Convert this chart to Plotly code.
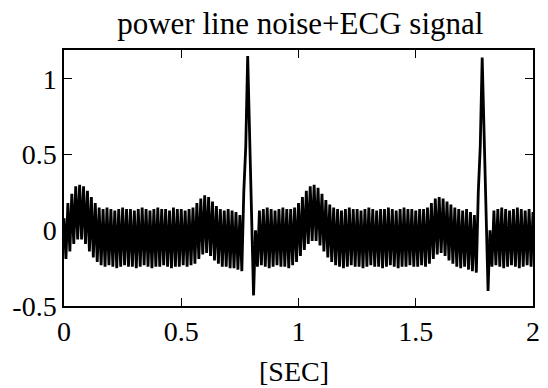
import numpy as np
import plotly.graph_objects as go

# Sampling: one vertex every half cycle of the 60 Hz power-line noise
SAMPLE_RATE = 120  # vertices per second

# Upper (crest) values, one per cycle (t = k/60)
crests = [
    0.08, 0.18, 0.24, 0.29, 0.30, 0.29, 0.26, 0.22, 0.18, 0.15,
    0.14, 0.15, 0.14, 0.13, 0.14, 0.15, 0.14, 0.14, 0.13, 0.14,
    0.15, 0.14, 0.13, 0.14, 0.15, 0.14, 0.14, 0.13, 0.15, 0.14,
    0.14, 0.13, 0.14, 0.15, 0.18, 0.21, 0.23, 0.22, 0.19, 0.16,
    0.14, 0.13, 0.14, 0.13, 0.12, 0.10, 0.25, 1.15, 0.15, 0.00,
    0.13, 0.14, 0.15, 0.14, 0.13, 0.14, 0.15, 0.14, 0.14, 0.15,
    0.18, 0.22, 0.26, 0.29, 0.30, 0.28, 0.24, 0.20, 0.17, 0.15,
    0.14, 0.13, 0.14, 0.15, 0.14, 0.14, 0.13, 0.14, 0.15, 0.14,
    0.13, 0.14, 0.14, 0.15, 0.14, 0.13, 0.14, 0.15, 0.14, 0.14,
    0.13, 0.14, 0.14, 0.15, 0.18, 0.21, 0.22, 0.21, 0.19, 0.17,
    0.15, 0.14, 0.13, 0.14, 0.12, 0.10, 0.25, 1.14, 0.15, 0.00,
    0.13, 0.14, 0.15, 0.14, 0.13, 0.14, 0.15, 0.14, 0.13, 0.14,
    0.12,
]

# Lower (trough) values, one per cycle (t = (2k+1)/120)
troughs = [
    -0.19, -0.14, -0.09, -0.06, -0.06, -0.09, -0.14, -0.18, -0.21, -0.23,
    -0.24, -0.23, -0.24, -0.25, -0.24, -0.23, -0.24, -0.24, -0.25, -0.24,
    -0.23, -0.24, -0.25, -0.24, -0.24, -0.23, -0.24, -0.25, -0.24, -0.24,
    -0.23, -0.24, -0.23, -0.22, -0.19, -0.16, -0.15, -0.17, -0.20, -0.22,
    -0.24, -0.24, -0.25, -0.25, -0.26, -0.27, 0.55, 0.65, -0.43, -0.24,
    -0.23, -0.24, -0.25, -0.24, -0.23, -0.24, -0.24, -0.25, -0.23, -0.21,
    -0.17, -0.13, -0.09, -0.07, -0.07, -0.10, -0.14, -0.18, -0.21, -0.23,
    -0.24, -0.25, -0.24, -0.23, -0.24, -0.24, -0.25, -0.24, -0.23, -0.24,
    -0.24, -0.25, -0.24, -0.23, -0.24, -0.25, -0.24, -0.24, -0.23, -0.24,
    -0.24, -0.23, -0.24, -0.22, -0.19, -0.16, -0.15, -0.17, -0.20, -0.22,
    -0.24, -0.25, -0.24, -0.26, -0.27, -0.28, 0.55, 0.65, -0.40, -0.24,
    -0.23, -0.24, -0.25, -0.24, -0.23, -0.24, -0.25, -0.24, -0.23, -0.24,
]

x_tick_vals = [0, 0.5, 1, 1.5, 2]
x_tick_text = ["0", "0.5", "1", "1.5", "2"]
y_tick_vals = [-0.5, 0, 0.5, 1]
y_tick_text = ["-0.5", "0", "0.5", "1"]

# Interleave crests and troughs into the plotted signal
signal = []
for k in range(len(crests)):
    signal.append(crests[k])
    if k < len(troughs):
        signal.append(troughs[k])
t = np.arange(len(signal)) / SAMPLE_RATE

FONT = "Liberation Serif, Times New Roman, serif"

fig = go.Figure()
fig.add_trace(go.Scatter(x=t, y=signal, mode="lines",
                         line=dict(color="black", width=2.8),
                         showlegend=False, hoverinfo="skip"))

axis_common = dict(showline=True, linecolor="black", linewidth=1.5, mirror="ticks",
                   ticks="inside", ticklen=8, tickwidth=1.2, tickcolor="black",
                   showgrid=False, zeroline=False,
                   tickfont=dict(family=FONT, size=28, color="black"))

fig.update_layout(
    width=548, height=388,
    margin=dict(l=64, r=8, t=50, b=82),
    paper_bgcolor="white", plot_bgcolor="white",
    title=dict(text="power line noise+ECG signal", x=0.548, xanchor="center",
               y=0.94, yanchor="middle",
               font=dict(family=FONT, size=31, color="black")),
    xaxis=dict(range=[0, 2], tickvals=x_tick_vals, ticktext=x_tick_text, **axis_common),
    yaxis=dict(range=[-0.5, 1.19], tickvals=y_tick_vals, ticktext=y_tick_text, **axis_common),
    annotations=[dict(text="[SEC]", xref="paper", yref="paper", x=0.49, y=0,
                      xanchor="center", yanchor="middle", yshift=-65, showarrow=False,
                      font=dict(family=FONT, size=28, color="black"))],
)

fig.write_html("out.html", config={"displayModeBar": False},
               post_script="document.body.style.margin='0';")
